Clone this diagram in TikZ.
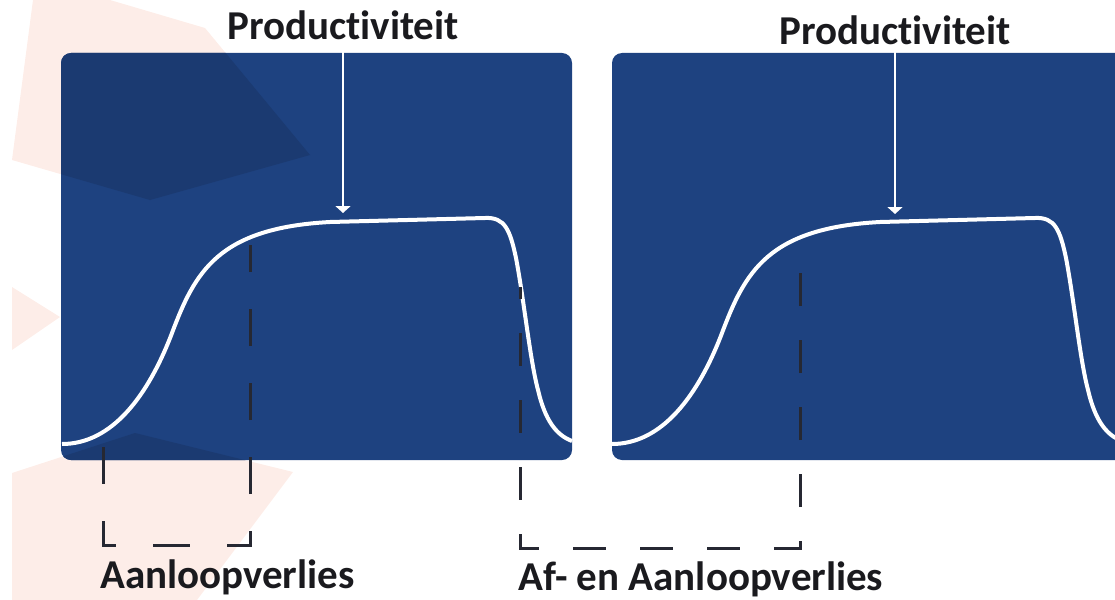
\documentclass[tikz,border=0pt]{standalone}
\usepackage{fontspec}
\setmainfont{Carlito}[Ligatures={NoCommon,NoRequired,NoContextual}]
\usetikzlibrary{arrows.meta}
\definecolor{boxblue}{RGB}{30,66,128}
\definecolor{shadeblue}{RGB}{27,58,113}
\definecolor{blush}{RGB}{253,237,232}
\definecolor{dashgrey}{RGB}{38,40,50}
\definecolor{labeltext}{RGB}{26,26,30}

\begin{document}
\begin{tikzpicture}%
        [x=1pt, y=-1pt,
        panel/.style={fill=boxblue, rounded corners=10pt},
        blob/.style={fill=blush},
        shade/.style={fill=shadeblue},
        curve/.style={draw=white, line width=4pt},
        pointer/.style={draw=white, line width=2.6pt, -{Triangle[width=15pt,length=7pt]}},
        bracket/.style={draw=dashgrey, line width=3pt},
        caption/.style={font=\bfseries\fontsize{41}{41}\selectfont, text=labeltext, inner sep=0pt}]

    %% Canvas
    \path[use as bounding box] (0,0) rectangle (1115,599);
    \clip (0,0) rectangle (1115,599);
    %%
    %% Background shapes
    %%
    \fill[blob] (33,0) -- (110,0) -- (205,28) -- (310,155) -- (150,200) -- (12,160) -- cycle;
    \fill[blob] (12,287) -- (60,317) -- (12,350) -- cycle;
    \fill[blob] (12,473) -- (135,433) -- (293,472) -- (197,600) -- (12,600) -- cycle;
    %%
    %% Panels
    %%
    \fill[panel] (61,53) rectangle (572,460);
    \fill[panel] (612,53) rectangle (1125,460);
    %% shapes seen through the left panel
    \begin{scope}
      \clip[rounded corners=10pt] (61,53) rectangle (572,460);
      \fill[shade] (33,0) -- (110,0) -- (205,28) -- (310,155) -- (150,200) -- (12,160) -- cycle;
      \fill[shade] (12,473) -- (135,433) -- (293,472) -- (197,600) -- (12,600) -- cycle;
    \end{scope}
    %%
    %% Productivity curves
    %%
    \foreach \dx in {0,550}{
      \draw[curve, xshift=\dx pt] (62,444) .. controls (112,444) and (148,396) .. (172,333)
        .. controls (195,272) and (218,228) .. (330,222)
        -- (485,218)
        .. controls (505,217) and (510,230) .. (516,258)
        .. controls (524,300) and (530,360) .. (538,390)
        .. controls (545,420) and (556,435) .. (572,441);
    }
    %%
    %% Loss brackets
    %%
    \draw[bracket, dash pattern=on 37pt off 37pt] (103,447) |- (250,545) -- (250,245);
    \draw[bracket, dash pattern=on 33pt off 34pt, dash phase=21pt] (520,287) |- (800,548) -- (800,248);
    %%
    %% Labels
    %%
    \node[caption, anchor=base] (prodL) at (343,40) {Productiviteit};
    \node[caption, anchor=base] (prodR) at (895,45) {Productiviteit};
    \node[caption, anchor=base west] (lossL) at (100,588) {Aanloopverlies};
    \node[caption, anchor=base west] (lossR) at (518,590) {Af- en Aanloopverlies};
    %% Arrows to the plateau
    \coordinate (peakL) at (343,213);
    \coordinate (peakR) at (895,214);
    \draw[pointer] (prodL) -- (peakL);
    \draw[pointer] (prodR) -- (peakR);
\end{tikzpicture}
\end{document}
